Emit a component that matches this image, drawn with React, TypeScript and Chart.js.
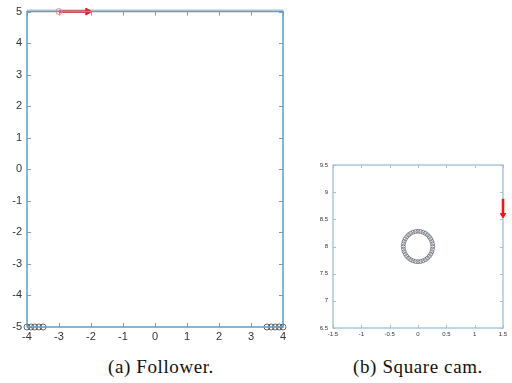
import React, { useEffect, useRef } from "react";
import { Chart, registerables } from "chart.js";
Chart.register(...registerables);

// ---- (a) Follower ----
const trackX = [-4, 4, 4, -4, -4];
const trackY = [-5, -5, 5, 5, -5];
const followerLeftX = [-4, -3.88, -3.76, -3.63, -3.5];
const followerRightX = [3.5, 3.63, 3.76, 3.88, 4];
const followerY = -5;
const followerAStart = [-3, 5];
const followerAEnd = [-2.1, 5];
const followerXTicks = [-4, -3, -2, -1, 0, 1, 2, 3, 4];
const followerYTicks = [-5, -4, -3, -2, -1, 0, 1, 2, 3, 4, 5];

// ---- (b) Square cam ----
const camRingX = [0.26, 0.256, 0.244, 0.225, 0.199, 0.167, 0.13, 0.089, 0.045, 0, -0.045, -0.089, -0.13, -0.167, -0.199, -0.225, -0.244, -0.256, -0.26, -0.256, -0.244, -0.225, -0.199, -0.167, -0.13, -0.089, -0.045, 0, 0.045, 0.089, 0.13, 0.167, 0.199, 0.225, 0.244, 0.256];
const camRingY = [8, 8.049, 8.096, 8.14, 8.18, 8.214, 8.242, 8.263, 8.276, 8.28, 8.276, 8.263, 8.242, 8.214, 8.18, 8.14, 8.096, 8.049, 8, 7.951, 7.904, 7.86, 7.82, 7.786, 7.758, 7.737, 7.724, 7.72, 7.724, 7.737, 7.758, 7.786, 7.82, 7.86, 7.904, 7.951];
const camAStart = [1.5, 8.88];
const camAEnd = [1.5, 8.58];
const camXTicks = [-1.5, -1, -0.5, 0, 0.5, 1, 1.5];
const camYTicks = [6.5, 7, 7.5, 8, 8.5, 9, 9.5];

const BLUE = "#5a9fd0";
const RED = "#ff1010";

const frameTicks = {
  id: "frameTicks",
  beforeDatasetsDraw(chart: any, _args: any, opts: any) {
    const { ctx, chartArea: a, scales } = chart;
    const len = opts.len || 4;
    ctx.save();
    if (opts.frame) {
      ctx.strokeStyle = opts.frame;
      ctx.lineWidth = opts.frameWidth || 1.5;
      ctx.strokeRect(a.left, a.top, a.right - a.left, a.bottom - a.top);
    }
    if (opts.topLine) {
      ctx.strokeStyle = opts.topLine;
      ctx.lineWidth = 1;
      ctx.beginPath();
      ctx.moveTo(a.left, a.top - 1.5);
      ctx.lineTo(a.right, a.top - 1.5);
      ctx.stroke();
    }
    ctx.strokeStyle = opts.tickColor || "#888";
    ctx.lineWidth = 1;
    ctx.beginPath();
    scales.x.ticks.forEach((t: any) => {
      const p = Math.round(scales.x.getPixelForValue(t.value)) + 0.5;
      ctx.moveTo(p, a.bottom); ctx.lineTo(p, a.bottom - len);
      ctx.moveTo(p, a.top); ctx.lineTo(p, a.top + len);
    });
    scales.y.ticks.forEach((t: any) => {
      const p = Math.round(scales.y.getPixelForValue(t.value)) + 0.5;
      ctx.moveTo(a.left, p); ctx.lineTo(a.left + len, p);
      ctx.moveTo(a.right, p); ctx.lineTo(a.right - len, p);
    });
    ctx.stroke();
    ctx.restore();
  },
};

function makeOptions(xTicks: number[], yTicks: number[], xr: number[], yr: number[], yW: number, xH: number, pad: any, fs: number, ft: any) {
  const tickCb = (list: number[]) => (sc: any) => {
    sc.ticks = list.map((v) => ({ value: v }));
  };
  return {
    animation: false,
    responsive: false,
    maintainAspectRatio: false,
    layout: { padding: pad },
    plugins: { legend: { display: false }, tooltip: { enabled: false }, frameTicks: ft },
    scales: {
      x: {
        type: "linear",
        min: xr[0], max: xr[1],
        afterBuildTicks: tickCb(xTicks),
        afterFit: (s: any) => { s.height = xH; },
        grid: { display: false, drawTicks: false },
        border: { display: false },
        ticks: { padding: 3, font: { family: "Liberation Sans", size: fs }, color: "#333", maxRotation: 0, autoSkip: false, callback: (v: any) => String(v) },
      },
      y: {
        type: "linear",
        min: yr[0], max: yr[1],
        afterBuildTicks: tickCb(yTicks),
        afterFit: (s: any) => { s.width = yW; },
        grid: { display: false, drawTicks: false },
        border: { display: false },
        ticks: { padding: 5, font: { family: "Liberation Sans", size: fs }, color: "#333", autoSkip: false, callback: (v: any) => String(v) },
      },
    },
  };
}

function arrowSets(s: number[], e: number[], rot: number, w: number, r: number) {
  return [
    {
      type: "line",
      data: [{ x: s[0], y: s[1] }, { x: e[0], y: e[1] }],
      borderColor: RED, borderWidth: w, pointRadius: 0, showLine: true, clip: false,
    },
    {
      type: "scatter",
      data: [{ x: e[0], y: e[1] }],
      pointStyle: "triangle", pointRotation: rot, pointRadius: r,
      backgroundColor: RED, borderColor: RED, borderWidth: 1, clip: false,
    },
  ];
}

function ChartBox({ build, style }: any) {
  const ref = useRef<HTMLCanvasElement>(null);
  useEffect(() => {
    const c = new Chart(ref.current as any, build());
    return () => c.destroy();
  }, []);
  return <canvas ref={ref} width={style.width} height={style.height} style={{ position: "absolute", ...style }} />;
}

export default function App() {
  const buildA = () => ({
    type: "scatter",
    data: {
      datasets: [
        {
          type: "line",
          data: trackX.map((x, i) => ({ x, y: trackY[i] })),
          borderColor: BLUE, borderWidth: 1.5, pointRadius: 0, showLine: true, clip: false,
        },
        {
          data: followerLeftX.concat(followerRightX).map((x) => ({ x, y: followerY })),
          pointStyle: "circle", pointRadius: 3, borderColor: "#444", borderWidth: 0.8, backgroundColor: "rgba(0,0,0,0)", clip: false,
        },
        {
          data: [{ x: followerAStart[0], y: followerAStart[1] }],
          pointStyle: "circle", pointRadius: 3, borderColor: "#f09090", borderWidth: 1, backgroundColor: "rgba(0,0,0,0)", clip: false,
        },
        ...arrowSets(followerAStart, followerAEnd, 90, 2.5, 4),
      ],
    },
    options: makeOptions(followerXTicks, followerYTicks, [-4, 4], [-5, 5], 27, 18, { left: 0, right: 17, top: 8, bottom: 0 }, 11,
      { len: 4, tickColor: "#999", topLine: "#aab0b8" }),
    plugins: [frameTicks],
  });
  const buildB = () => ({
    type: "scatter",
    data: {
      datasets: [
        {
          data: camRingX.map((x, i) => ({ x, y: camRingY[i] })),
          pointStyle: "circle", pointRadius: 2, borderColor: "#6a7078", borderWidth: 0.8, backgroundColor: "rgba(0,0,0,0)", clip: false,
        },
        ...arrowSets(camAStart, camAEnd, 180, 2.5, 3),
      ],
    },
    options: makeOptions(camXTicks, camYTicks, [-1.5, 1.5], [6.5, 9.5], 33, 17, { left: 0, right: 9, top: 15, bottom: 0 }, 6,
      { len: 3, tickColor: "#bbb", frame: "#a9c9e2", frameWidth: 1.5 }),
    plugins: [frameTicks],
  });
  const cap = { position: "absolute" as const, fontFamily: "'Liberation Serif', 'Times New Roman', serif", fontSize: 19, color: "#111", textAlign: "center" as const, whiteSpace: "nowrap" as const, lineHeight: "20px" };
  return (
    <div style={{ position: "fixed", left: 0, top: 0, width: 512, height: 383, background: "#fff", overflow: "hidden" }}>
      <ChartBox build={buildA} style={{ left: 0, top: 0, width: 300, height: 345 }} />
      <ChartBox build={buildB} style={{ left: 300, top: 150, width: 212, height: 195 }} />
      <div style={{ ...cap, left: 61, width: 200, top: 357, letterSpacing: "0.6px" }}>(a) Follower.</div>
      <div style={{ ...cap, left: 318, width: 200, top: 357, letterSpacing: "0.6px" }}>(b) Square cam.</div>
    </div>
  );
}
